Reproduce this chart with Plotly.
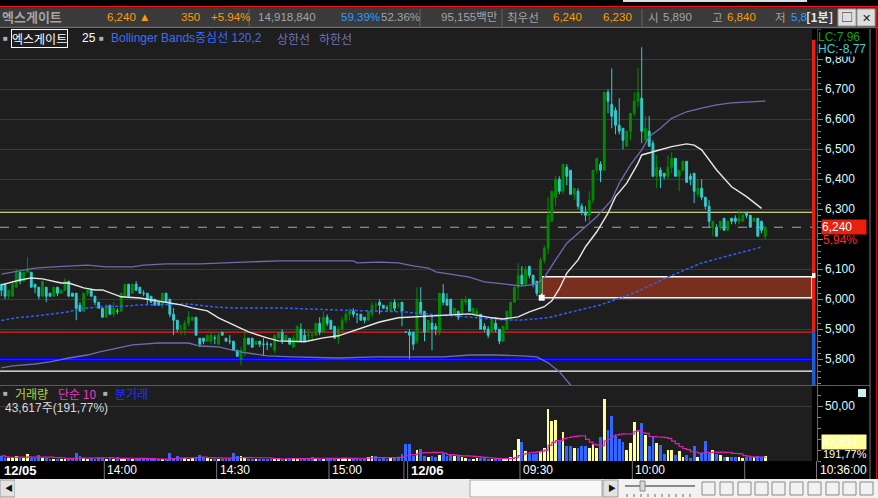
import plotly.graph_objects as go
import pandas as pd

W, H = 878, 498
FONT = "Liberation Sans, Noto Sans CJK KR"
KFONT = "Noto Sans CJK KR, Liberation Sans"

# ---- 엑스게이트 1분봉 ----
# 12/05 13:32~15:19 + 15:30 종가
d1_open = [6050, 6050, 6010, 6010, 6040, 6090, 6060, 6090, 6090, 6050,
           6040, 6010, 6040, 6020, 6010, 6040, 6020, 6030, 6060, 6020,
           6020, 5980, 5960, 6020, 6030, 6010, 5990, 5970, 5940, 5980,
           5950, 5960, 5960, 6010, 6050, 6020, 6050, 6040, 6020, 6020,
           6010, 6000, 5990, 5980, 6020, 6000, 5950, 5930, 5910, 5900,
           5920, 5930, 5940, 5870, 5870, 5860, 5860, 5870, 5850, 5890,
           5870, 5860, 5860, 5830, 5800, 5830, 5870, 5870, 5850, 5860,
           5850, 5850, 5850, 5830, 5870, 5890, 5860, 5870, 5840, 5860,
           5900, 5880, 5880, 5880, 5880, 5920, 5890, 5940, 5930, 5910,
           5870, 5900, 5930, 5950, 5960, 5950, 5950, 5940, 5930, 5950,
           5980, 5990, 5980, 5970, 5960, 5990, 5980, 5990, 5890]
d1_high = [6050, 6050, 6030, 6060, 6100, 6090, 6090, 6140, 6090, 6050,
           6040, 6060, 6040, 6020, 6040, 6040, 6030, 6070, 6060, 6020,
           6020, 5990, 6020, 6030, 6030, 6010, 5990, 5970, 5980, 5980,
           5990, 5970, 6020, 6050, 6050, 6050, 6060, 6040, 6030, 6020,
           6010, 6000, 5990, 6020, 6020, 6000, 5970, 5930, 5910, 5930,
           5960, 5940, 5940, 5870, 5870, 5880, 5890, 5880, 5890, 5890,
           5870, 5880, 5860, 5830, 5840, 5890, 5870, 5870, 5860, 5860,
           5870, 5860, 5850, 5880, 5890, 5900, 5880, 5870, 5880, 5910,
           5920, 5900, 5900, 5890, 5920, 5940, 5960, 5950, 5930, 5910,
           5910, 5940, 5960, 5970, 5970, 5950, 5950, 5940, 5960, 5990,
           5990, 6000, 5980, 5980, 5990, 6000, 5990, 5990, 5890]
d1_low = [6010, 6000, 6000, 6010, 6040, 6050, 6060, 6090, 6040, 6020,
          6000, 6010, 5990, 6010, 6010, 6010, 6020, 6030, 6010, 6010,
          5930, 5960, 5960, 6010, 6010, 5980, 5970, 5940, 5940, 5950,
          5940, 5950, 5960, 6010, 6010, 6020, 6030, 6020, 6010, 5980,
          5990, 5980, 5980, 5970, 5990, 5940, 5880, 5890, 5880, 5880,
          5910, 5930, 5880, 5840, 5850, 5860, 5850, 5850, 5850, 5880,
          5860, 5850, 5830, 5810, 5780, 5810, 5850, 5840, 5850, 5840,
          5810, 5830, 5840, 5820, 5870, 5850, 5860, 5850, 5840, 5860,
          5860, 5860, 5860, 5860, 5880, 5880, 5890, 5910, 5900, 5870,
          5850, 5890, 5920, 5930, 5940, 5920, 5930, 5920, 5930, 5940,
          5960, 5950, 5970, 5960, 5960, 5960, 5970, 5910, 5890]
d1_close = [6030, 6010, 6030, 6050, 6090, 6060, 6090, 6100, 6040, 6040,
            6010, 6060, 6010, 6010, 6040, 6020, 6030, 6060, 6010, 6010,
            5970, 5960, 6020, 6030, 6010, 5990, 5970, 5940, 5980, 5950,
            5970, 5960, 6020, 6050, 6010, 6050, 6030, 6020, 6020, 6000,
            5990, 5980, 5980, 6020, 5990, 5950, 5930, 5900, 5910, 5920,
            5940, 5940, 5880, 5850, 5860, 5880, 5880, 5870, 5880, 5880,
            5860, 5860, 5830, 5810, 5830, 5870, 5850, 5840, 5860, 5850,
            5850, 5850, 5850, 5880, 5890, 5860, 5880, 5850, 5870, 5910,
            5860, 5860, 5880, 5880, 5920, 5890, 5940, 5920, 5900, 5870,
            5900, 5930, 5950, 5960, 5950, 5950, 5930, 5930, 5960, 5980,
            5980, 5980, 5970, 5970, 5990, 5970, 5980, 5960, 5890]
d1_vol = [46000, 31000, 25000, 34000, 43000, 31000, 25000, 65000, 25000, 25000,
          56000, 25000, 31000, 19000, 19000, 15000, 15000, 15000, 22000, 15000,
          77000, 46000, 25000, 19000, 25000, 19000, 25000, 25000, 19000, 31000,
          19000, 40000, 25000, 19000, 31000, 15000, 22000, 15000, 15000, 15000,
          15000, 15000, 19000, 15000, 19000, 77000, 25000, 46000, 25000, 25000,
          19000, 25000, 34000, 56000, 34000, 25000, 19000, 22000, 22000, 15000,
          19000, 19000, 77000, 46000, 46000, 25000, 15000, 15000, 22000, 15000,
          15000, 19000, 15000, 25000, 25000, 15000, 22000, 25000, 31000, 25000,
          22000, 15000, 25000, 40000, 25000, 22000, 22000, 25000, 25000, 22000,
          25000, 31000, 25000, 19000, 25000, 31000, 22000, 25000, 40000, 46000,
          46000, 22000, 34000, 19000, 25000, 25000, 40000, 65000, 157000]

# 12/06 09:00~10:35
d2_open = [5890, 5890, 5860, 5990, 5960, 5890, 5920, 5910, 5890, 6020,
           6000, 6000, 5950, 5960, 5950, 5990, 6000, 5950, 5950, 5950,
           5910, 5900, 5890, 5920, 5900, 5860, 5900, 5940, 5990, 6040,
           6080, 6050, 6110, 6080, 6060, 6020, 6130, 6170, 6260, 6340,
           6400, 6360, 6440, 6430, 6350, 6360, 6310, 6290, 6280, 6330,
           6430, 6450, 6430, 6690, 6650, 6630, 6580, 6570, 6510, 6560,
           6620, 6660, 6670, 6530, 6560, 6520, 6410, 6430, 6420, 6410,
           6440, 6470, 6410, 6430, 6460, 6410, 6420, 6350, 6370, 6340,
           6310, 6240, 6240, 6240, 6270, 6230, 6270, 6270, 6260, 6260,
           6290, 6280, 6260, 6270, 6260, 6210]
d2_high = [5900, 5890, 6040, 6040, 5960, 5930, 5950, 5920, 6020, 6050,
           6020, 6000, 5970, 5960, 6000, 6010, 6000, 5970, 5970, 5950,
           5920, 5910, 5940, 5940, 5900, 5910, 5960, 5990, 6040, 6120,
           6110, 6110, 6110, 6080, 6060, 6140, 6180, 6340, 6360, 6410,
           6410, 6450, 6450, 6430, 6370, 6370, 6320, 6310, 6360, 6430,
           6470, 6460, 6690, 6700, 6770, 6640, 6670, 6570, 6560, 6620,
           6690, 6770, 6840, 6610, 6610, 6530, 6480, 6440, 6420, 6480,
           6490, 6470, 6430, 6460, 6460, 6420, 6420, 6400, 6400, 6340,
           6330, 6260, 6250, 6260, 6270, 6260, 6270, 6280, 6300, 6290,
           6290, 6280, 6270, 6270, 6260, 6240]
d2_low = [5800, 5830, 5850, 5950, 5860, 5890, 5830, 5880, 5880, 5980,
          5980, 5950, 5950, 5930, 5950, 5980, 5960, 5950, 5940, 5900,
          5890, 5870, 5890, 5890, 5850, 5860, 5900, 5940, 5990, 6000,
          6050, 6050, 6070, 6040, 6010, 6020, 6120, 6150, 6260, 6310,
          6350, 6350, 6380, 6350, 6330, 6300, 6280, 6260, 6260, 6320,
          6420, 6390, 6430, 6620, 6570, 6550, 6550, 6500, 6510, 6530,
          6610, 6640, 6520, 6530, 6510, 6410, 6370, 6370, 6400, 6400,
          6420, 6410, 6360, 6430, 6390, 6380, 6320, 6340, 6330, 6300,
          6240, 6210, 6210, 6230, 6230, 6230, 6250, 6250, 6250, 6260,
          6270, 6240, 6260, 6210, 6220, 6200]
d2_close = [5880, 5850, 6000, 5950, 5890, 5930, 5900, 5900, 6020, 5990,
            5980, 5950, 5970, 5940, 6000, 6000, 5960, 5970, 5960, 5900,
            5900, 5880, 5930, 5900, 5860, 5910, 5960, 5990, 6040, 6080,
            6050, 6100, 6080, 6050, 6020, 6130, 6170, 6280, 6360, 6400,
            6360, 6450, 6410, 6350, 6370, 6310, 6290, 6280, 6330, 6430,
            6470, 6430, 6690, 6660, 6610, 6580, 6560, 6530, 6560, 6620,
            6660, 6690, 6560, 6570, 6510, 6410, 6440, 6410, 6410, 6440,
            6470, 6410, 6430, 6460, 6390, 6400, 6360, 6370, 6340, 6310,
            6260, 6260, 6210, 6260, 6230, 6260, 6260, 6260, 6270, 6280,
            6280, 6240, 6270, 6210, 6230, 6240]
d2_vol = [157000, 46000, 96000, 108000, 46000, 34000, 46000, 40000, 55000, 65000,
          46000, 55000, 46000, 55000, 34000, 25000, 19000, 19000, 31000, 25000,
          25000, 19000, 19000, 22000, 22000, 19000, 25000, 34000, 102000, 204000,
          170000, 93000, 65000, 62000, 62000, 87000, 117000, 472000, 364000, 370000,
          188000, 262000, 139000, 139000, 117000, 123000, 133000, 139000, 117000, 157000,
          123000, 219000, 565000, 287000, 410000, 231000, 204000, 170000, 102000, 164000,
          358000, 287000, 349000, 241000, 133000, 226000, 164000, 148000, 65000, 102000,
          96000, 56000, 93000, 40000, 56000, 25000, 139000, 40000, 71000, 179000,
          77000, 102000, 65000, 56000, 34000, 34000, 34000, 34000, 34000, 25000,
          34000, 40000, 34000, 46000, 34000, 43617]

# 보조지표 (화면에서 읽은 값: 봉 번호, 가격)
ma25_x = [0, 5, 8, 11, 16, 18, 22, 25, 27, 29, 32, 37, 42, 48, 51, 55, 58, 62, 66, 71,
          74, 81, 83, 86, 90, 93, 97, 101, 106, 110, 116, 122, 125, 131, 134, 138, 141,
          145, 147, 149, 151, 154, 156, 159, 162, 164, 167, 170, 171, 175, 179, 183,
          185, 187, 191, 195, 199, 203]
ma25_y = [6048, 6064, 6071, 6068, 6054, 6054, 6038, 6031, 6031, 6021, 6008, 6004, 5994,
          5981, 5971, 5961, 5938, 5914, 5891, 5871, 5861, 5858, 5864, 5871, 5878, 5891,
          5908, 5924, 5938, 5941, 5944, 5951, 5951, 5938, 5934, 5941, 5958, 5975, 5995,
          6035, 6087, 6131, 6175, 6225, 6287, 6342, 6387, 6453, 6481, 6495, 6509, 6518,
          6514, 6498, 6431, 6375, 6342, 6303]
bb_mid_x = [0, 4, 9, 13, 18, 21, 26, 34, 37, 50, 57, 62, 74, 90, 99, 107, 116, 122, 127,
            134, 139, 146, 151, 160, 169, 178, 187, 195, 203]
bb_mid_y = [5929, 5938, 5944, 5951, 5958, 5968, 5974, 5978, 5981, 5984, 5974, 5971, 5971,
            5964, 5961, 5958, 5948, 5944, 5938, 5931, 5931, 5938, 5954, 5981, 6021, 6074,
            6121, 6148, 6174]
bb_up_x = [0, 3, 9, 14, 18, 23, 28, 35, 38, 44, 53, 61, 66, 74, 94, 95, 101, 106, 110,
           114, 116, 122, 125, 129, 134, 139, 143, 145, 148, 151, 155, 159, 163, 165, 168,
           171, 173, 176, 179, 183, 187, 191, 195, 204]
bb_up_y = [6084, 6091, 6104, 6108, 6111, 6114, 6108, 6108, 6114, 6118, 6118, 6121, 6124,
           6128, 6128, 6121, 6124, 6121, 6111, 6104, 6091, 6081, 6074, 6058, 6051, 6044,
           6051, 6073, 6131, 6187, 6231, 6275, 6331, 6387, 6448, 6498, 6542, 6570, 6603,
           6625, 6637, 6648, 6655, 6661]
bb_lo_x = [0, 3, 9, 13, 18, 23, 26, 31, 35, 42, 50, 53, 58, 64, 67, 71, 78, 90, 100, 113,
           118, 125, 132, 139, 143, 146, 149, 152, 154]
bb_lo_y = [5771, 5778, 5784, 5791, 5804, 5814, 5824, 5838, 5848, 5854, 5854, 5844, 5841,
           5824, 5818, 5811, 5808, 5804, 5808, 5808, 5808, 5814, 5814, 5811, 5808, 5788,
           5758, 5714, 5680]

# 기준선 / 박스
PREV_CLOSE = 5890
DAY_LOW = 5800
LOW_LINE = 5760
HIGH_LINE = 6290
LAST = 6240
BOX_LOW, BOX_HIGH = 6005, 6075
BOX_START = 144.3
PRICE_TICKS = [5800, 5900, 6000, 6100, 6200, 6300, 6400, 6500, 6600, 6700, 6800]
PRICE_TEXT = ["5,800", "5,900", "6,000", "6,100", "", "6,300", "6,400", "6,500",
              "6,600", "6,700", "6,800"]

opens = d1_open + d2_open
highs = d1_high + d2_high
lows = d1_low + d2_low
closes = d1_close + d2_close
vols = d1_vol + d2_vol
idx = list(range(len(opens)))

times = list(pd.date_range("2023-12-05 13:32", periods=len(d1_open) - 1, freq="min"))
times += [pd.Timestamp("2023-12-05 15:30")]
times += list(pd.date_range("2023-12-06 09:00", periods=len(d2_open), freq="min"))


def pos(t):
    return times.index(pd.Timestamp(t))


UP, DN = "#008c00", "#33cccc"
vcolors = ["#ffff99" if c > o else "#3366ff" for o, c in zip(opens, closes)]
vol_ma = pd.Series(vols).rolling(10, min_periods=1).mean()

X_MIN = -0.35
X_MAX = X_MIN + 812 / 3.745


def px(x):
    return x / W


def py(y):
    return 1 - y / H


fig = go.Figure()

fig.add_trace(go.Candlestick(
    x=idx, open=opens, high=highs, low=lows, close=closes,
    increasing=dict(line=dict(color=UP, width=1), fillcolor=UP),
    decreasing=dict(line=dict(color=DN, width=1), fillcolor=DN),
    whiskerwidth=0, hoverinfo="skip", xaxis="x", yaxis="y"))

fig.add_trace(go.Scatter(x=bb_up_x, y=bb_up_y, mode="lines",
                         line=dict(color="#6c6cb0", width=1.3), xaxis="x", yaxis="y"))
fig.add_trace(go.Scatter(x=bb_lo_x, y=bb_lo_y, mode="lines",
                         line=dict(color="#6c6cb0", width=1.3), xaxis="x", yaxis="y"))
fig.add_trace(go.Scatter(x=bb_mid_x, y=bb_mid_y, mode="lines",
                         line=dict(color="#2f5dff", width=1.5, dash="3px,2px"), xaxis="x", yaxis="y"))
fig.add_trace(go.Scatter(x=ma25_x, y=ma25_y, mode="lines",
                         line=dict(color="#e8e8e8", width=1.4), xaxis="x", yaxis="y"))
fig.add_trace(go.Scatter(x=[BOX_START], y=[BOX_LOW], mode="markers",
                         marker=dict(symbol="square", size=6, color="white"), xaxis="x", yaxis="y"))

fig.add_trace(go.Bar(x=idx, y=vols, width=0.75, marker=dict(color=vcolors, line=dict(width=0)),
                     xaxis="x2", yaxis="y2", hoverinfo="skip"))
fig.add_trace(go.Scatter(x=idx, y=vol_ma, mode="lines",
                         line=dict(color="#e020b0", width=1.2, shape="hv"), xaxis="x2", yaxis="y2"))

shapes = []


def rect(x0, y0, x1, y1, fill, line=None, lw=0):
    shapes.append(dict(type="rect", xref="paper", yref="paper", x0=px(x0), x1=px(x1),
                       y0=py(y1), y1=py(y0), fillcolor=fill,
                       line=dict(width=lw, color=line or fill)))


def hline(x0, x1, y, color, lw=1):
    shapes.append(dict(type="line", xref="paper", yref="paper", x0=px(x0), x1=px(x1),
                       y0=py(y), y1=py(y), line=dict(color=color, width=lw)))


def vline(x, y0, y1, color, lw=1):
    shapes.append(dict(type="line", xref="paper", yref="paper", x0=px(x), x1=px(x),
                       y0=py(y0), y1=py(y1), line=dict(color=color, width=lw)))


# 가격 기준선 (차트 영역 폭 전체)
for lvl, col, lw, dash in [(HIGH_LINE, "#ffff90", 1.2, "solid"), (PREV_CLOSE, "#e41e1e", 1.2, "solid"),
                           (DAY_LOW, "#0000ff", 3, "solid"), (LOW_LINE, "#ffffff", 1.2, "solid"),
                           (LAST, "#a8a8a8", 1, "dash")]:
    shapes.append(dict(type="line", xref="x", yref="y", x0=X_MIN, x1=X_MAX, y0=lvl, y1=lvl,
                       layer="below", line=dict(color=col, width=lw, dash=dash)))
shapes.append(dict(type="rect", xref="x", yref="y", x0=BOX_START, x1=X_MAX, y0=BOX_LOW, y1=BOX_HIGH,
                   fillcolor="#7a2e1e", layer="below", line=dict(color="white", width=1.5)))

# 가격 영역 표시 바
shapes.append(dict(type="rect", xref="paper", yref="y", x0=px(812), x1=px(815.5), y0=PREV_CLOSE,
                   y1=6865, fillcolor="#e8200c", line=dict(width=0)))
shapes.append(dict(type="rect", xref="paper", yref="y", x0=px(812), x1=px(815.5), y0=5714,
                   y1=PREV_CLOSE, fillcolor="#1e5fd0", line=dict(width=0)))
rect(812, 273, 815.5, 278, "white")

# 상단 시세 바
rect(0, 0, 878, 6, "#000000")
rect(623, 0, 807, 2, "#e0e0e0")
rect(0, 6, 878, 7.5, "#ff1010")
rect(0, 7.5, 878, 27, "#3a3a3a")
hline(0, 878, 27.5, "#6e6e6e", 1.5)
for sx in [249, 420, 502, 642]:
    vline(sx, 9, 26, "#5e5e5e", 1.2)
rect(838, 9, 856, 26, "#dedede", "#9a9a9a", 1)
rect(857, 9, 875, 26, "#dedede", "#9a9a9a", 1)

# 패널 경계
hline(0, 870, 385.5, "#5a5a5a", 1)
vline(870, 29, 479, "#777777", 1)
vline(876.5, 7, 479, "#c01010", 1)
rect(858, 389, 866, 397, "#c8f0f0")

# 시간축 구분선
seps = [("2023-12-05 14:00", "14:00", False), ("2023-12-05 14:30", "14:30", False),
        ("2023-12-05 15:00", "15:00", False), ("2023-12-05 15:30", None, False),
        ("2023-12-06 09:00", "12/06", True), ("2023-12-06 09:30", "09:30", False),
        ("2023-12-06 10:00", "10:00", False), ("2023-12-06 10:30", None, False)]
for t, _, _ in seps:
    shapes.append(dict(type="line", xref="x2", yref="paper", x0=pos(t) - 0.5, x1=pos(t) - 0.5,
                       y0=py(479), y1=py(461), line=dict(color="#7a7a7a", width=1)))
vline(816.5, 461, 479, "#7a7a7a", 1)

# 스크롤바
rect(0, 479, 878, 498, "#f2f2f2")
rect(0, 480, 15, 497, "#e2e2e2", "#9a9a9a", 1)
rect(15, 480, 470, 497, "#ebebeb")
rect(470, 480, 602, 497, "#f8f8f8", "#a8a8a8", 1)
rect(603, 480, 618, 497, "#e2e2e2", "#9a9a9a", 1)
hline(625, 695, 486, "#8a8a8a", 2)
rect(640, 481, 645, 491, "#d8d8d8", "#8a8a8a", 1)
for tx in range(627, 697, 7):
    vline(tx, 494, 497, "#666666", 1)
for ix in [702, 720, 738, 755, 772, 790, 808, 826, 843, 860]:
    rect(ix, 482, ix + 13, 495, "rgba(0,0,0,0)", "#8a8a8a", 1)

ann = []


def txt(x, y, s, color, size=12, bold=False, family=FONT, anchor="left", bg=None, **kw):
    ann.append(dict(xref="paper", yref="paper", x=px(x), y=py(y),
                    xanchor=anchor, yanchor="middle", showarrow=False,
                    text=("<b>%s</b>" % s) if bold else s, bgcolor=bg, borderpad=0,
                    font=dict(color=color, size=size, family=family), **kw))


ORG, GRY, BLU = "#ff9c00", "#a4a4a4", "#2e9bff"
HS = 11.5
txt(1, 17, "엑스게이트", GRY, 13, True, KFONT)
txt(106, 17, "6,240 ▲", ORG, HS)
txt(180, 17, "350", ORG, HS)
txt(210, 17, "+5.94%", ORG, HS)
txt(257, 17, "14,918,840", GRY, HS)
txt(340, 17, "59.39%", BLU, HS)
txt(380, 17, "52.36%", GRY, HS)
txt(440, 17, "95,155백만", GRY, HS)
txt(506, 17, "최우선", GRY, HS, False, KFONT)
txt(552, 17, "6,240", ORG, HS)
txt(602, 17, "6,230", ORG, HS)
txt(647, 17, "시", GRY, HS, False, KFONT)
txt(662, 17, "5,890", GRY, HS)
txt(711, 17, "고", GRY, HS, False, KFONT)
txt(726, 17, "6,840", ORG, HS)
txt(774, 17, "저", GRY, HS, False, KFONT)
txt(790, 17, "5,8", BLU, HS)
txt(805, 17, "[1분]", "#e8e8e8", 12, True, KFONT)
txt(847, 17, "□", "#202020", 12, False, KFONT, "center")
txt(866, 17, "✕", "#202020", 11, False, KFONT, "center")

# 범례
txt(2, 38, "■", "#b0b0b0", 8)
ann.append(dict(xref="paper", yref="paper", x=px(11), y=py(38), xanchor="left", yanchor="middle",
                showarrow=False, text="엑스게이트", bordercolor="#ffffff", borderwidth=1, borderpad=0,
                font=dict(color="#ffffff", size=12, family=KFONT)))
txt(81, 38, "25", "#ffffff")
txt(98, 38, "■", "#b0b0b0", 8)
txt(110, 38, "Bollinger Bands중심선 120,2", "#3a6cff")
txt(276, 38, "상한선", "#7474b8", 12, False, KFONT)
txt(318, 38, "하한선", "#7474b8", 12, False, KFONT)

txt(2, 393, "■", "#b0b0b0", 8)
txt(14, 393, "거래량", "#b4d23c", 12, False, KFONT)
txt(57, 393, "단순 10", "#e040c0", 12, False, KFONT)
txt(102, 393, "■", "#b0b0b0", 8)
txt(114, 393, "분거래", "#2030ff", 12, False, KFONT)
txt(4, 408, "43,617주(191,77%)", "#d8d8d8")

# 우측 표시
txt(817, 37, "LC:7,96", "#14a014", 12, False, FONT, "left", "#000000")
txt(817, 49, "HC:-8,77", "#3cd2d2", 12, False, FONT, "left", "#000000")
ann.append(dict(xref="paper", yref="y", x=px(821), y=LAST, xanchor="left", yanchor="middle",
                showarrow=False, text="6,240", bgcolor="#e8200c", width=44, align="left",
                borderpad=0, font=dict(color="#ffffff", size=12, family=FONT)))
ann.append(dict(xref="paper", yref="y", x=px(821), y=LAST, yshift=-13, xanchor="left",
                yanchor="middle", showarrow=False, text="5,94%",
                font=dict(color="#ff2a2a", size=12, family=FONT)))
ann.append(dict(xref="paper", yref="paper", x=px(821), y=py(442), xanchor="left", yanchor="middle",
                showarrow=False, text="43,617", bgcolor="#ffff99", width=44, align="left",
                borderpad=0, font=dict(color="#ffffff", size=12, family=FONT)))
txt(822, 454, "191,77%", "#fffff0", 11)

# 시간축 라벨
txt(3, 470, "12/05", "#ffffff", 13, True)
for t, lab, bold in seps:
    if lab:
        ann.append(dict(xref="x2", yref="paper", x=pos(t) - 0.5, y=py(470), xanchor="left",
                        yanchor="middle", xshift=1, showarrow=False,
                        text=("<b>%s</b>" % lab) if bold else lab,
                        font=dict(color="#ffffff", size=13 if bold else 12, family=FONT)))
txt(819, 470, "10:36:00", "#ffffff")

txt(4, 488.5, "◀", "#111111", 8)
txt(607, 488.5, "▶", "#111111", 8)

xa = dict(range=[X_MIN, X_MAX], domain=[0, px(812)], showgrid=False, zeroline=False,
          showticklabels=False, ticks="", showline=False, fixedrange=True)
fig.update_layout(
    width=W, height=H, autosize=False, margin=dict(l=0, r=0, t=0, b=0),
    paper_bgcolor="#000000", plot_bgcolor="#1e1e1e", showlegend=False,
    font=dict(family=FONT, size=12, color="#d0d0d0"),
    boxgap=0.3, bargap=0,
    xaxis=dict(xa, anchor="y", rangeslider=dict(visible=False)),
    xaxis2=dict(xa, anchor="y2"),
    yaxis=dict(domain=[py(385), py(29)], range=[5714, 6901], anchor="free", position=px(816.5),
               side="right", showline=True, linecolor="#6a6a6a", ticks="outside", ticklen=5,
               tickcolor="#8a8a8a", tickvals=PRICE_TICKS, ticktext=PRICE_TEXT, gridcolor="#3a3a3a",
               zeroline=False, fixedrange=True,
               minor=dict(tickmode="linear", tick0=0, dtick=20, ticks="outside", ticklen=3,
                          tickcolor="#8a8a8a", showgrid=False),
               tickfont=dict(family=FONT, size=12, color="#d6fbff")),
    yaxis2=dict(domain=[py(461), py(386)], range=[0, 685000], anchor="free", position=px(816.5),
                side="right", showline=True, linecolor="#6a6a6a", ticks="outside", ticklen=5,
                tickcolor="#8a8a8a", tickvals=[500000], ticktext=["50,00"], gridcolor="#3a3a3a",
                zeroline=False, fixedrange=True,
                minor=dict(tickmode="linear", tick0=0, dtick=100000, ticks="outside", ticklen=3,
                           tickcolor="#8a8a8a", showgrid=False),
                tickfont=dict(family=FONT, size=12, color="#d6fbff")),
    shapes=shapes, annotations=ann,
)

fig.write_html("out.html", config={"displayModeBar": False},
               post_script="document.body.style.margin='0';document.body.style.overflow='hidden';")
